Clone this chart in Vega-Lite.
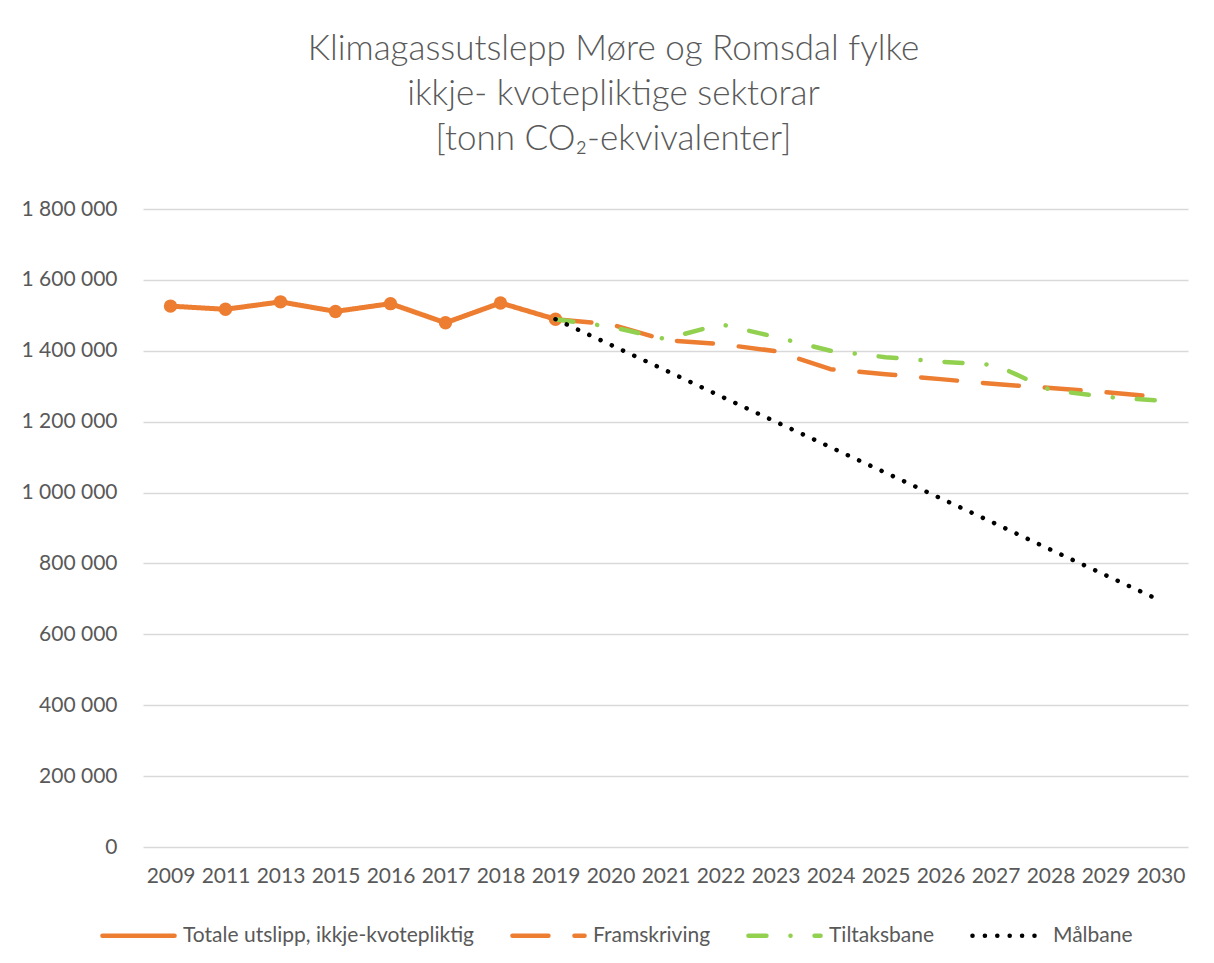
{
  "$schema": "https://vega.github.io/schema/vega-lite/v6.json",
  "width": 1045,
  "height": 638,
  "autosize": {"type": "none"},
  "padding": {"left": 143, "top": 209, "right": 26, "bottom": 116},
  "background": "white",
  "config": {
    "locale": {"number": {"decimal": ",", "thousands": " ", "grouping": [3], "currency": ["", ""]}},
    "view": {"stroke": null},
    "font": "Lato"
  },
  "title": {
    "text": ["Klimagassutslepp Møre og Romsdal fylke", "ikkje- kvotepliktige sektorar", "[tonn CO₂-ekvivalenter]"],
    "font": "Lato",
    "fontSize": 35,
    "fontWeight": 300,
    "color": "#595959",
    "lineHeight": 45,
    "anchor": "middle",
    "dx": -52,
    "offset": 41
  },
  "data": {
    "values": [
      {"serie": "Totale utslipp, ikkje-kvotepliktig", "year": "2009", "value": 1526000},
      {"serie": "Totale utslipp, ikkje-kvotepliktig", "year": "2011", "value": 1517000},
      {"serie": "Totale utslipp, ikkje-kvotepliktig", "year": "2013", "value": 1538000},
      {"serie": "Totale utslipp, ikkje-kvotepliktig", "year": "2015", "value": 1511000},
      {"serie": "Totale utslipp, ikkje-kvotepliktig", "year": "2016", "value": 1533000},
      {"serie": "Totale utslipp, ikkje-kvotepliktig", "year": "2017", "value": 1479000},
      {"serie": "Totale utslipp, ikkje-kvotepliktig", "year": "2018", "value": 1535000},
      {"serie": "Totale utslipp, ikkje-kvotepliktig", "year": "2019", "value": 1489000},
      {"serie": "Framskriving", "year": "2019", "value": 1489000},
      {"serie": "Framskriving", "year": "2020", "value": 1475000},
      {"serie": "Framskriving", "year": "2021", "value": 1430000},
      {"serie": "Framskriving", "year": "2022", "value": 1419000},
      {"serie": "Framskriving", "year": "2023", "value": 1399000},
      {"serie": "Framskriving", "year": "2024", "value": 1348000},
      {"serie": "Framskriving", "year": "2025", "value": 1334000},
      {"serie": "Framskriving", "year": "2026", "value": 1320000},
      {"serie": "Framskriving", "year": "2027", "value": 1306000},
      {"serie": "Framskriving", "year": "2028", "value": 1295000},
      {"serie": "Framskriving", "year": "2029", "value": 1283000},
      {"serie": "Framskriving", "year": "2030", "value": 1269000},
      {"serie": "Tiltaksbane", "year": "2019", "value": 1489000},
      {"serie": "Tiltaksbane", "year": "2020", "value": 1468000},
      {"serie": "Tiltaksbane", "year": "2021", "value": 1433000},
      {"serie": "Tiltaksbane", "year": "2022", "value": 1475000},
      {"serie": "Tiltaksbane", "year": "2023", "value": 1439000},
      {"serie": "Tiltaksbane", "year": "2024", "value": 1400000},
      {"serie": "Tiltaksbane", "year": "2025", "value": 1382000},
      {"serie": "Tiltaksbane", "year": "2026", "value": 1369000},
      {"serie": "Tiltaksbane", "year": "2027", "value": 1360000},
      {"serie": "Tiltaksbane", "year": "2028", "value": 1289000},
      {"serie": "Tiltaksbane", "year": "2029", "value": 1270000},
      {"serie": "Tiltaksbane", "year": "2030", "value": 1259000},
      {"serie": "Målbane", "year": "2019", "value": 1489000},
      {"serie": "Målbane", "year": "2020", "value": 1417000},
      {"serie": "Målbane", "year": "2021", "value": 1345000},
      {"serie": "Målbane", "year": "2022", "value": 1272000},
      {"serie": "Målbane", "year": "2023", "value": 1200000},
      {"serie": "Målbane", "year": "2024", "value": 1128000},
      {"serie": "Målbane", "year": "2025", "value": 1056000},
      {"serie": "Målbane", "year": "2026", "value": 984000},
      {"serie": "Målbane", "year": "2027", "value": 912000},
      {"serie": "Målbane", "year": "2028", "value": 839000},
      {"serie": "Målbane", "year": "2029", "value": 767000},
      {"serie": "Målbane", "year": "2030", "value": 695000}
    ]
  },
  "encoding": {
    "x": {
      "field": "year",
      "type": "ordinal",
      "scale": {"type": "point", "padding": 0.5},
      "axis": {
        "title": null,
        "labelAngle": 0,
        "labelFontSize": 21,
        "labelColor": "#595959",
        "labelPadding": 18,
        "ticks": false,
        "domain": false,
        "grid": false
      }
    },
    "y": {
      "field": "value",
      "type": "quantitative",
      "scale": {"domain": [0, 1800000], "nice": false},
      "axis": {
        "title": null,
        "values": [0, 200000, 400000, 600000, 800000, 1000000, 1200000, 1400000, 1600000, 1800000],
        "format": ",d",
        "labelFontSize": 21,
        "labelColor": "#595959",
        "labelPadding": 26,
        "ticks": false,
        "domain": false,
        "grid": true,
        "gridColor": "#D9D9D9",
        "gridWidth": 1.3
      }
    }
  },
  "layer": [
    {
      "transform": [{"filter": "datum.serie === 'Totale utslipp, ikkje-kvotepliktig'"}],
      "mark": {"type": "line", "strokeWidth": 5, "strokeCap": "round", "strokeJoin": "round"},
      "encoding": {
        "color": {
          "field": "serie",
          "type": "nominal",
          "scale": {
            "domain": ["Totale utslipp, ikkje-kvotepliktig", "Framskriving", "Tiltaksbane", "Målbane"],
            "range": ["#ED7D31", "#ED7D31", "#92D050", "#000000"]
          },
          "legend": {
            "title": null,
            "orient": "none",
            "legendX": -43,
            "legendY": 688,
            "direction": "horizontal",
            "symbolType": "stroke",
            "symbolSize": 5200,
            "symbolStrokeWidth": 4.5,
            "labelFontSize": 21,
            "labelColor": "#595959",
            "labelLimit": 600,
            "labelOffset": 6,
            "columnPadding": 28,
            "encode": {"symbols": {"update": {"strokeCap": {"value": "round"}}}}
          }
        },
        "strokeDash": {
          "field": "serie",
          "type": "nominal",
          "scale": {
            "domain": ["Totale utslipp, ikkje-kvotepliktig", "Framskriving", "Tiltaksbane", "Målbane"],
            "range": [[1, 0], [36, 26], [18, 24, 0.1, 24], [0.1, 12.3]]
          },
          "legend": null
        }
      }
    },
    {
      "transform": [{"filter": "datum.serie === 'Totale utslipp, ikkje-kvotepliktig'"}],
      "mark": {"type": "point", "filled": true, "size": 180, "opacity": 1, "color": "#ED7D31"}
    },
    {
      "transform": [{"filter": "datum.serie === 'Framskriving'"}],
      "mark": {"type": "line", "strokeWidth": 4.5, "strokeCap": "round", "strokeJoin": "round"},
      "encoding": {
        "color": {"field": "serie", "type": "nominal"},
        "strokeDash": {"field": "serie", "type": "nominal"}
      }
    },
    {
      "transform": [{"filter": "datum.serie === 'Tiltaksbane'"}],
      "mark": {"type": "line", "strokeWidth": 4.5, "strokeCap": "round", "strokeJoin": "round"},
      "encoding": {
        "color": {"field": "serie", "type": "nominal"},
        "strokeDash": {"field": "serie", "type": "nominal"}
      }
    },
    {
      "transform": [{"filter": "datum.serie === 'Målbane'"}],
      "mark": {"type": "line", "strokeWidth": 4.5, "strokeCap": "round", "strokeJoin": "round"},
      "encoding": {
        "color": {"field": "serie", "type": "nominal"},
        "strokeDash": {"field": "serie", "type": "nominal"}
      }
    }
  ]
}
